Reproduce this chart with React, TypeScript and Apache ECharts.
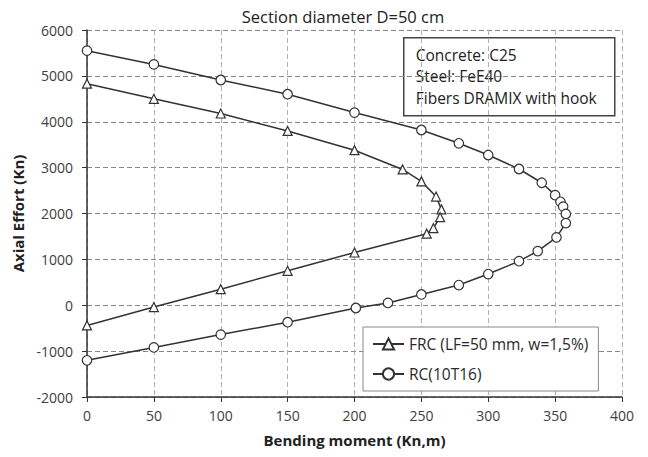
import React, { useEffect, useRef } from "react";
import * as echarts from "echarts";

const xTicks = [0, 50, 100, 150, 200, 250, 300, 350, 400];
const yTicks = [-2000, -1000, 0, 1000, 2000, 3000, 4000, 5000, 6000];

const frcName = "FRC (LF=50 mm, w=1,5%)";
const frcMoment = [0, 50, 100, 150, 200, 236, 250, 261, 265, 264, 259, 254, 200, 150, 100, 50, 0];
const frcEffort = [4830, 4500, 4180, 3800, 3380, 2960, 2700, 2370, 2090, 1920, 1680, 1560, 1150, 750, 350, -40, -440];

const rcName = "RC(10T16)";
const rcMoment = [0, 50, 100, 150, 200, 250, 278, 300, 323, 340, 350, 354, 356, 358, 358, 351, 337, 323, 300, 278, 250, 225, 201, 150, 100, 50, 0];
const rcEffort = [5550, 5250, 4910, 4600, 4200, 3820, 3530, 3275, 2970, 2670, 2400, 2255, 2150, 1990, 1790, 1480, 1180, 960, 680, 440, 235, 50, -60, -370, -640, -920, -1200];

const infoLines = ["Concrete: C25", "Steel: FeE40", "Fibers DRAMIX with hook"];
const chartTitle = "Section diameter D=50 cm";
const xTitle = "Bending moment (Kn,m)";
const yTitle = "Axial Effort (Kn)";

const FONT = "Open Sans";

export default function App() {
  const ref = useRef<HTMLDivElement>(null);
  useEffect(() => {
    document.body.style.margin = "0";
    const chart = echarts.init(ref.current!, null, { renderer: "svg" });
    const pair = (xs: number[], ys: number[]) => xs.map((x, i) => [x, ys[i]]);
    const lineColor = "#333";
    chart.setOption({
      animation: false,
      backgroundColor: "#fff",
      textStyle: { fontFamily: FONT },
      grid: { left: 87, right: 26, top: 30, bottom: 60 },
      xAxis: {
        type: "value",
        min: xTicks[0],
        max: xTicks[xTicks.length - 1],
        interval: 50,
        name: xTitle,
        nameLocation: "middle",
        nameGap: 35,
        nameTextStyle: { fontSize: 15, fontWeight: "bold", color: "#222", fontFamily: FONT },
        axisLine: { onZero: false, lineStyle: { color: "#333", width: 1.5 } },
        axisTick: { show: true, length: 5, lineStyle: { color: "#333" } },
        axisLabel: { fontSize: 14, color: "#404040", margin: 11, fontFamily: FONT, formatter: (v: number) => String(v) },
        splitLine: { show: true, lineStyle: { type: [5, 3], color: "#b0b0b0", width: 1 } },
      },
      yAxis: {
        type: "value",
        min: yTicks[0],
        max: yTicks[yTicks.length - 1],
        interval: 1000,
        name: yTitle,
        nameLocation: "middle",
        nameGap: 46,
        nameTextStyle: { fontSize: 15, fontWeight: "bold", color: "#222", fontFamily: FONT },
        axisLine: { show: true, onZero: false, lineStyle: { color: "#333", width: 1.5 } },
        axisTick: { show: true, length: 5, lineStyle: { color: "#333" } },
        axisLabel: { fontSize: 14, color: "#404040", margin: 14, fontFamily: FONT, formatter: (v: number) => String(v) },
        splitLine: { show: true, lineStyle: { type: [5, 3], color: "#888", width: 1 } },
      },
      legend: {
        orient: "vertical",
        left: 363,
        top: 327,
        padding: [9, 10, 9, 9],
        itemGap: 14,
        itemWidth: 31,
        itemHeight: 14,
        backgroundColor: "#fff",
        borderColor: "#888",
        borderWidth: 1,
        borderRadius: 0,
        textStyle: { fontSize: 15.5, color: "#2a2a2a", fontFamily: FONT },
        data: [frcName, rcName],
      },
      series: [
        {
          name: frcName,
          type: "line",
          data: pair(frcMoment, frcEffort),
          symbol: "triangle",
          symbolSize: 9,
          showAllSymbol: true,
          lineStyle: { color: lineColor, width: 1.5 },
          itemStyle: { color: "#fff", borderColor: lineColor, borderWidth: 1.2 },
        },
        {
          name: rcName,
          type: "line",
          data: pair(rcMoment, rcEffort),
          symbol: "circle",
          symbolSize: 9.5,
          showAllSymbol: true,
          lineStyle: { color: lineColor, width: 1.5 },
          itemStyle: { color: "#fff", borderColor: lineColor, borderWidth: 1.2 },
        },
      ],
      graphic: [
        {
          type: "text",
          x: 343,
          y: 16,
          style: { text: chartTitle, fontSize: 16.5, fill: "#222", fontFamily: FONT, align: "center", verticalAlign: "middle" },
        },
        {
          type: "group",
          left: 403,
          top: 37,
          children: [
            {
              type: "rect",
              shape: { x: 0, y: 0, width: 211, height: 78 },
              style: { fill: "#fff", stroke: "#444", lineWidth: 1.5 },
            },
            ...infoLines.map((t, i) => ({
              type: "text",
              x: 12,
              y: 17 + i * 21.5,
              style: { text: t, fontSize: 15.5, fill: "#222", fontFamily: FONT, verticalAlign: "middle" },
            })),
          ],
        },
      ],
    });
    return () => chart.dispose();
  }, []);
  return <div ref={ref} style={{ width: 648, height: 457 }} />;
}
